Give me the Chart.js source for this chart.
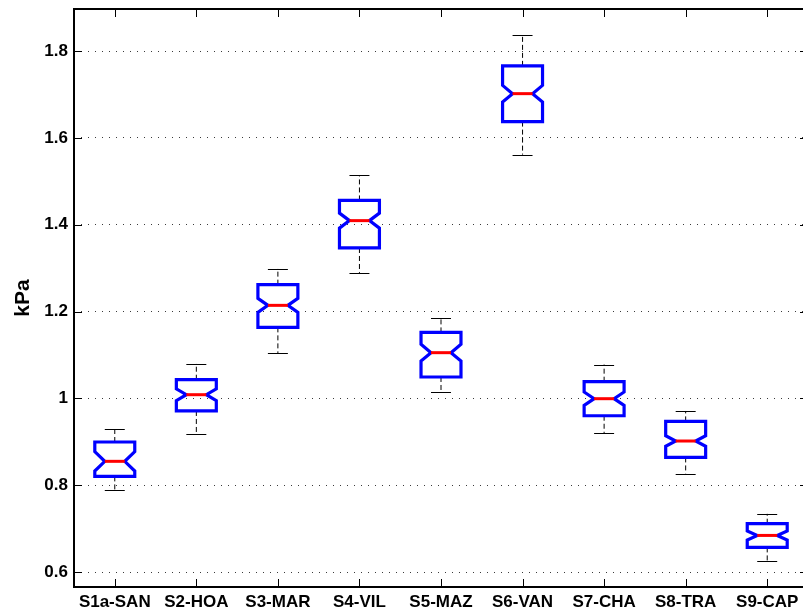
<!DOCTYPE html>
<html>
<head>
<meta charset="utf-8">
<title>Pressure by site</title>
<script src="https://cdn.jsdelivr.net/npm/chart.js@4/dist/chart.umd.min.js"></script>
<style>
  html, body { margin: 0; padding: 0; background: #ffffff; overflow: hidden; }
  #wrap { position: absolute; left: 0; top: 0; width: 812px; height: 614px; }
</style>
</head>
<body>
<div id="wrap"><canvas id="chart" width="812" height="614"></canvas></div>
<script>
// Site labels along the x axis
const categories = ['S1a-SAN', 'S2-HOA', 'S3-MAR', 'S4-VIL', 'S5-MAZ', 'S6-VAN', 'S7-CHA', 'S8-TRA', 'S9-CAP'];

// Box statistics per site (kPa)
const whiskerHigh   = [0.930, 1.080, 1.299, 1.514, 1.186, 1.837, 1.078, 0.971, 0.734];
const upperQuartile = [0.8995, 1.043, 1.262, 1.456, 1.152, 1.766, 1.0385, 0.947, 0.7113];
const medians       = [0.855, 1.0085, 1.2143, 1.4095, 1.1053, 1.702, 0.9993, 0.9018, 0.6843];
const lowerQuartile = [0.8203, 0.971, 1.1636, 1.3465, 1.0493, 1.6376, 0.960, 0.864, 0.6567];
const whiskerLow    = [0.790, 0.919, 1.1037, 1.289, 1.0138, 1.5615, 0.9194, 0.8265, 0.626];
// Half-height of the notch around each median (kPa)
const notchHalf     = [0.0223, 0.0135, 0.0162, 0.0173, 0.0194, 0.0191, 0.0154, 0.0122, 0.0104];

// Value axis tick labels
const yTicks = [0.6, 0.8, 1, 1.2, 1.4, 1.6, 1.8];

const FONT = 'Liberation Sans, Arial, Helvetica, sans-serif';
const BOX_HALF = 0.245;      // half box width in category units
const TICK_LEN = 8;          // inward tick length in px

const notchedBoxes = {
  id: 'notchedBoxes',
  afterDatasetsDraw(chart) {
    const { ctx, chartArea, scales: { x, y } } = chart;
    ctx.save();

    categories.forEach((_, i) => {
      const cx = x.getPixelForValue(i);
      const hw = x.getPixelForValue(i + BOX_HALF) - cx;
      const yHi = y.getPixelForValue(whiskerHigh[i]);
      const yQ3 = y.getPixelForValue(upperQuartile[i]);
      const yMed = y.getPixelForValue(medians[i]);
      const yQ1 = y.getPixelForValue(lowerQuartile[i]);
      const yLo = y.getPixelForValue(whiskerLow[i]);
      const yNt = y.getPixelForValue(medians[i] + notchHalf[i]);
      const yNb = y.getPixelForValue(medians[i] - notchHalf[i]);

      // whiskers
      ctx.strokeStyle = '#000000';
      ctx.lineWidth = 1;
      ctx.setLineDash([5, 3]);
      ctx.beginPath();
      ctx.moveTo(cx, yQ3); ctx.lineTo(cx, yHi);
      ctx.moveTo(cx, yQ1); ctx.lineTo(cx, yLo);
      ctx.stroke();
      ctx.setLineDash([]);

      // whisker caps
      ctx.beginPath();
      ctx.moveTo(cx - hw / 2, Math.round(yHi) + 0.5); ctx.lineTo(cx + hw / 2, Math.round(yHi) + 0.5);
      ctx.moveTo(cx - hw / 2, Math.round(yLo) + 0.5); ctx.lineTo(cx + hw / 2, Math.round(yLo) + 0.5);
      ctx.stroke();

      // notched box
      ctx.strokeStyle = '#0000ff';
      ctx.lineWidth = 3.2;
      ctx.lineJoin = 'miter';
      ctx.beginPath();
      ctx.moveTo(cx - hw, yQ3);
      ctx.lineTo(cx + hw, yQ3);
      ctx.lineTo(cx + hw, yNt);
      ctx.lineTo(cx + hw / 2, yMed);
      ctx.lineTo(cx + hw, yNb);
      ctx.lineTo(cx + hw, yQ1);
      ctx.lineTo(cx - hw, yQ1);
      ctx.lineTo(cx - hw, yNb);
      ctx.lineTo(cx - hw / 2, yMed);
      ctx.lineTo(cx - hw, yNt);
      ctx.closePath();
      ctx.stroke();

      // median
      ctx.strokeStyle = '#ff0000';
      ctx.lineWidth = 3;
      ctx.beginPath();
      ctx.moveTo(cx - hw / 2, yMed);
      ctx.lineTo(cx + hw / 2, yMed);
      ctx.stroke();
    });

    // axes frame
    const { left, right, top, bottom } = chartArea;
    ctx.strokeStyle = '#000000';
    ctx.lineWidth = 2;
    ctx.beginPath();
    ctx.rect(left, top, right - left, bottom - top);
    ctx.stroke();

    // inward ticks
    ctx.lineWidth = 1;
    ctx.beginPath();
    categories.forEach((_, i) => {
      const px = Math.round(x.getPixelForValue(i)) + 0.5;
      ctx.moveTo(px, bottom); ctx.lineTo(px, bottom - TICK_LEN);
      ctx.moveTo(px, top); ctx.lineTo(px, top + TICK_LEN);
    });
    yTicks.forEach(v => {
      const py = Math.round(y.getPixelForValue(v)) + 0.5;
      ctx.moveTo(left, py); ctx.lineTo(left + TICK_LEN, py);
      ctx.moveTo(right, py); ctx.lineTo(right - TICK_LEN, py);
    });
    ctx.stroke();
    ctx.restore();
  }
};

new Chart(document.getElementById('chart'), {
  type: 'scatter',
  data: {
    datasets: [{
      label: 'Median',
      data: medians.map((m, i) => ({ x: i, y: m })),
      pointRadius: 0,
      pointHoverRadius: 0,
      showLine: false
    }]
  },
  options: {
    responsive: false,
    animation: false,
    events: [],
    layout: { padding: { left: 0, top: 9, right: 4, bottom: 0 } },
    plugins: { legend: { display: false }, tooltip: { enabled: false } },
    scales: {
      x: {
        type: 'linear',
        min: -0.5,
        max: 8.5,
        afterBuildTicks: s => { s.ticks = categories.map((_, i) => ({ value: i })); },
        afterFit: s => { s.height = 27; s.paddingLeft = 0; s.paddingRight = 0; },
        grid: { display: false, drawTicks: false },
        border: { display: false },
        ticks: {
          callback: v => categories[v],
          color: '#000000',
          font: { family: FONT, size: 17, weight: 'bold' },
          padding: 5,
          maxRotation: 0,
          autoSkip: false
        }
      },
      y: {
        type: 'linear',
        min: 0.5655,
        max: 1.897,
        afterBuildTicks: s => { s.ticks = yTicks.map(v => ({ value: v })); },
        afterFit: s => { s.width = 74; s.paddingTop = 0; s.paddingBottom = 0; },
        grid: { color: '#3a3a3a', lineWidth: 1, drawTicks: false },
        border: { display: false, dash: [1, 6] },
        ticks: {
          callback: v => String(v),
          color: '#000000',
          font: { family: FONT, size: 17, weight: 'bold' },
          padding: 6
        },
        title: {
          display: true,
          text: 'kPa',
          color: '#000000',
          font: { family: FONT, size: 21, weight: 'bold' },
          padding: { top: 11, bottom: 0 }
        }
      }
    }
  },
  plugins: [notchedBoxes]
});
</script>
</body>
</html>
